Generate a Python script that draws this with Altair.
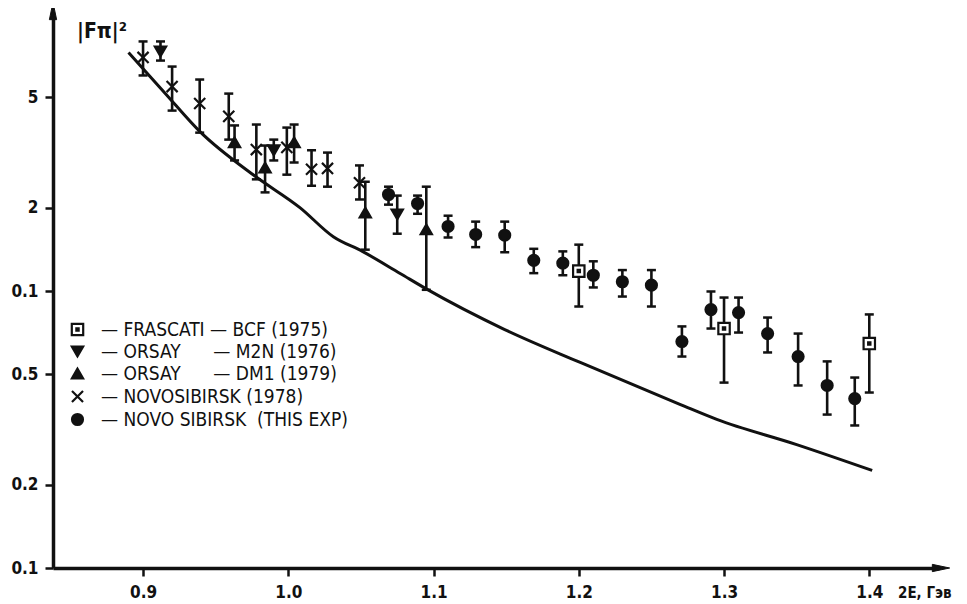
import altair as alt
import pandas as pd

# ---------------- data ----------------
series_names = [
    "— FRASCATI — BCF (1975)",
    "— ORSAY\u00a0\u00a0\u00a0\u00a0\u00a0 — M2N (1976)",
    "— ORSAY\u00a0\u00a0\u00a0\u00a0\u00a0 — DM1 (1979)",
    "— NOVOSIBIRSK (1978)",
    "— NOVO SIBIRSK\u00a0 (THIS EXP)",
]

# FRASCATI - BCF (1975), open squares
fra_x = [1.200, 1.300, 1.400]
fra_y = [1.18, 0.732, 0.646]
fra_lo = [0.879, 0.467, 0.430]
fra_hi = [1.47, 0.947, 0.823]

# ORSAY - M2N (1976), down triangles
m2n_x = [0.912, 0.990, 1.075]
m2n_y = [7.32, 3.22, 1.89]
m2n_lo = [6.79, 2.96, 1.61]
m2n_hi = [7.96, 3.52, 2.21]

# ORSAY - DM1 (1979), up triangles
dm1_x = [0.963, 0.984, 1.004, 1.053, 1.095]
dm1_y = [3.44, 2.79, 3.44, 1.92, 1.67]
dm1_lo = [2.96, 2.27, 2.91, 1.41, 1.01]
dm1_hi = [3.96, 3.35, 3.99, 2.48, 2.38]

# NOVOSIBIRSK (1978), crosses
n78_x = [0.900, 0.920, 0.939, 0.959, 0.978, 0.999, 1.016, 1.027, 1.049]
n78_y = [6.97, 5.47, 4.75, 4.27, 3.24, 3.30, 2.75, 2.77, 2.46]
n78_lo = [6.00, 4.48, 3.73, 3.52, 2.53, 2.63, 2.40, 2.38, 2.14]
n78_hi = [7.96, 6.46, 5.80, 5.16, 3.99, 3.89, 3.22, 3.16, 2.84]

# NOVOSIBIRSK (this experiment), dots
nov_x = [1.069, 1.089, 1.110, 1.129, 1.149, 1.169, 1.189, 1.210, 1.230,
         1.250, 1.271, 1.291, 1.310, 1.330, 1.351, 1.371, 1.390]
nov_y = [2.23, 2.07, 1.71, 1.60, 1.59, 1.29, 1.26, 1.14, 1.08,
         1.05, 0.657, 0.857, 0.836, 0.702, 0.580, 0.456, 0.409]
nov_lo = [2.05, 1.90, 1.56, 1.44, 1.38, 1.16, 1.14, 1.03, 0.955,
          0.879, 0.580, 0.732, 0.708, 0.600, 0.456, 0.358, 0.327]
nov_hi = [2.38, 2.21, 1.87, 1.78, 1.78, 1.42, 1.39, 1.28, 1.19,
          1.19, 0.745, 0.996, 0.947, 0.802, 0.702, 0.557, 0.487]

# theory curve
curve_x = [0.890, 0.915, 0.939, 0.977, 1.008, 1.031, 1.051, 1.077,
           1.095, 1.149, 1.201, 1.270, 1.295, 1.350, 1.402]
curve_y = [7.26, 5.19, 3.77, 2.60, 2.00, 1.57, 1.39, 1.157,
           1.018, 0.726, 0.552, 0.389, 0.344, 0.279, 0.225]

x_tick_values = [0.9, 1.0, 1.1, 1.2, 1.3, 1.4]
x_tick_labels = ["0.9", "1.0", "1.1", "1.2", "1.3", "1.4"]
y_tick_values = [0.1, 0.2, 0.5, 1.0, 2.0, 5.0]
y_tick_labels = ["0.1", "0.2", "0.5", "0.1", "2", "5"]

y_title = "|Fπ|²"
x_title = "2E, Гэв"

# ---------------- build tables ----------------
rows = []
for name, xs, ys, los, his in [
    (series_names[0], fra_x, fra_y, fra_lo, fra_hi),
    (series_names[1], m2n_x, m2n_y, m2n_lo, m2n_hi),
    (series_names[2], dm1_x, dm1_y, dm1_lo, dm1_hi),
    (series_names[3], n78_x, n78_y, n78_lo, n78_hi),
    (series_names[4], nov_x, nov_y, nov_lo, nov_hi),
]:
    for a, b, c, d in zip(xs, ys, los, his):
        rows.append({"series": name, "x": a, "y": b, "lo": c, "hi": d})
pts = pd.DataFrame(rows)
curve = pd.DataFrame({"x": curve_x, "y": curve_y})

W, H = 886, 554
INK = "#111111"
LFONT = "DejaVu Sans Condensed"


def expr_from(vals, labs):
    e = "''"
    for v, l in reversed(list(zip(vals, labs))):
        e = f"(abs(datum.value - {v}) < 1e-6 ? '{l}' : {e})"
    return e


xscale = alt.Scale(domain=[0.838, 1.448], nice=False, zero=False)
yscale = alt.Scale(type="log", domain=[0.1, 10], nice=False)
xaxis = alt.Axis(values=x_tick_values, labelExpr=expr_from(x_tick_values, x_tick_labels),
                 title=None, grid=False, tickSize=8, tickWidth=2.5, tickColor=INK,
                 domainWidth=3.5, domainColor=INK, labelFont=LFONT, labelFontSize=17,
                 labelFontWeight="bold", labelColor=INK, labelPadding=8,
                 labelFlush=False, labelOverlap=False)
yaxis = alt.Axis(values=y_tick_values, labelExpr=expr_from(y_tick_values, y_tick_labels),
                 title=None, grid=False, tickSize=8, tickWidth=2.5, tickColor=INK,
                 domainWidth=3.5, domainColor=INK, labelFont=LFONT, labelFontSize=17,
                 labelFontWeight="bold", labelColor=INK, labelPadding=7,
                 labelFlush=False, labelOverlap=False)

X = alt.X("x:Q", scale=xscale, axis=xaxis)
Y = alt.Y("y:Q", scale=yscale, axis=yaxis)

sq_path = "M-1,-1H1V1H-1Z M-0.2,-0.2H0.2V0.2H-0.2Z"
x_path = "M-1,-1L1,1M-1,1L1,-1"
legend = alt.Legend(orient="none", legendX=15, legendY=306, title=None,
                    labelFont=LFONT, labelFontSize=19, labelColor=INK, labelLimit=500,
                    labelOffset=14, rowPadding=2, padding=0,
                    symbolStrokeWidth=2.2, symbolOpacity=1)

base = alt.Chart(pts)

line = alt.Chart(curve).mark_line(color=INK, strokeWidth=3, interpolate="monotone").encode(x=X, y=Y)

bars = base.mark_rule(color=INK, strokeWidth=2.6).encode(
    x=X, y=alt.Y("lo:Q", scale=yscale, axis=yaxis), y2="hi:Q")
cap_lo = base.mark_tick(color=INK, orient="horizontal", size=9, thickness=2.5, opacity=1).encode(
    x=X, y=alt.Y("lo:Q", scale=yscale, axis=yaxis))
cap_hi = base.mark_tick(color=INK, orient="horizontal", size=9, thickness=2.5, opacity=1).encode(
    x=X, y=alt.Y("hi:Q", scale=yscale, axis=yaxis))

points = base.mark_point(filled=True, strokeWidth=2.2, opacity=1).encode(
    x=X, y=Y,
    shape=alt.Shape("series:N", scale=alt.Scale(
        domain=series_names,
        range=[sq_path, "triangle-down", "triangle-up", x_path, "circle"]), legend=legend),
    fill=alt.Fill("series:N", scale=alt.Scale(
        domain=series_names, range=["white", INK, INK, INK, INK]), legend=legend),
    stroke=alt.Stroke("series:N", scale=alt.Scale(
        domain=series_names, range=[INK, INK, INK, INK, INK]), legend=legend),
    size=alt.Size("series:N", scale=alt.Scale(
        domain=series_names, range=[130, 120, 120, 70, 60]), legend=legend),
)

arrow_up = alt.Chart(pd.DataFrame({"a": [0]})).mark_point(
    shape="M0,-1L0.42,1L-0.42,1Z", filled=True, fill=INK, size=300, opacity=1, stroke=INK, strokeWidth=1
).encode(x=alt.value(0), y=alt.value(-3))
arrow_right = alt.Chart(pd.DataFrame({"a": [0]})).mark_point(
    shape="M1,0L-1,0.42L-1,-0.42Z", filled=True, fill=INK, size=300, opacity=1, stroke=INK, strokeWidth=1
).encode(x=alt.value(W + 2), y=alt.value(H))

ytitle = alt.Chart(pd.DataFrame({"t": [y_title]})).mark_text(
    font=LFONT, fontSize=21, fontWeight="bold", color=INK, align="left", baseline="middle"
).encode(text="t:N", x=alt.value(24), y=alt.value(18))
xtitle = alt.Chart(pd.DataFrame({"t": [x_title]})).mark_text(
    font=LFONT, fontSize=15, fontWeight="bold", color=INK, align="left", baseline="middle"
).encode(text="t:N", x=alt.value(845), y=alt.value(579))

chart = alt.layer(line, bars, cap_lo, cap_hi, points, arrow_up, arrow_right, ytitle, xtitle).properties(
    width=W, height=H,
    autosize=alt.AutoSizeParams(type="none"),
    padding={"left": 45, "top": 6, "right": 20, "bottom": 34},
    background="white",
).configure_view(stroke=None)

chart.save("out.html", embed_options={"renderer": "svg", "actions": False})
